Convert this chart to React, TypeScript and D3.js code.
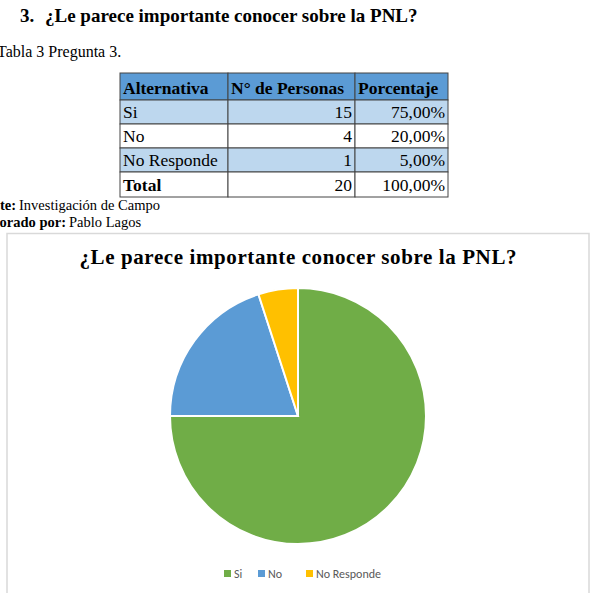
import React from "react";
import * as d3 from "d3";

const categories = ["Si", "No", "No Responde"];
const counts = [15, 4, 1];
const percentLabels = ["75,00%", "20,00%", "5,00%"];
const totalLabel = "Total";
const totalCount = "20";
const totalPercent = "100,00%";
const headers = ["Alternativa", "N° de Personas", "Porcentaje"];
const colors = ["#70AD47", "#5B9BD5", "#FFC000"];

const serif = "'Liberation Serif', 'Times New Roman', serif";
const sans = "Carlito, 'Open Sans', 'Liberation Sans', sans-serif";

export default function App() {
  const W = 595, H = 593;
  const colX = [120, 228, 355, 448];
  const rowY = [73, 100, 124, 148, 172, 197];
  const rowFill = ["#5B9BD5", "#BDD7EE", "#FFFFFF", "#BDD7EE", "#FFFFFF"];

  const pie = d3.pie<number>().sort(null).value((d) => d);
  const arcs = pie(counts);
  const cx = 298, cy = 416, r = 128;
  const arc = d3.arc<d3.PieArcDatum<number>>().innerRadius(0).outerRadius(r);

  const rows = [
    { cells: headers, bold: true },
    ...categories.map((c, i) => ({ cells: [c, String(counts[i]), percentLabels[i]], bold: false })),
    { cells: [totalLabel, totalCount, totalPercent], bold: false, firstBold: true },
  ];

  const legendX = [224, 258, 306];

  return (
    <svg width={W} height={H} style={{ position: "absolute", left: 0, top: 0, display: "block" }}>
      <rect x={0} y={0} width={W} height={H} fill="#fff" />
      <text x={20} y={22} fontFamily={serif} fontWeight="bold" fontSize={19}>3.</text>
      <text x={45} y={22} fontFamily={serif} fontWeight="bold" fontSize={19}>¿Le parece importante conocer sobre la PNL?</text>
      <text x={-3} y={57} fontFamily={serif} fontSize={16}>Tabla 3 Pregunta 3.</text>

      {rows.map((row, ri) => (
        <g key={ri}>
          {row.cells.map((cell, ci) => {
            const x0 = colX[ci], x1 = colX[ci + 1];
            const y0 = rowY[ri], y1 = rowY[ri + 1];
            const alignLeft = ri === 0 || ci === 0;
            const bold = row.bold || ((row as any).firstBold && ci === 0);
            return (
              <g key={ci}>
                <rect x={x0} y={y0} width={x1 - x0} height={y1 - y0} fill={rowFill[ri] || "#fff"} stroke="#444" strokeWidth={1} />
                <text
                  x={alignLeft ? x0 + 3 : x1 - 3}
                  y={y1 - 6}
                  textAnchor={alignLeft ? "start" : "end"}
                  fontFamily={serif}
                  fontSize={17.5}
                  fontWeight={bold ? "bold" : "normal"}
                  fill="#000"
                >
                  {cell}
                </text>
              </g>
            );
          })}
        </g>
      ))}

      <text x={16} y={210} textAnchor="end" fontFamily={serif} fontSize={14.5} fontWeight="bold">Fuente:</text>
      <text x={19} y={210} fontFamily={serif} fontSize={14.5}>Investigación de Campo</text>
      <text x={66} y={227} textAnchor="end" fontFamily={serif} fontSize={14.5} fontWeight="bold">Elaborado por:</text>
      <text x={69} y={227} fontFamily={serif} fontSize={14.5}>Pablo Lagos</text>

      <rect x={7} y={233.5} width={582} height={370} fill="#fff" stroke="#D9D9D9" strokeWidth={1.5} />
      <text x={298} y={264} textAnchor="middle" fontFamily={serif} fontWeight="bold" fontSize={21} textLength={437} lengthAdjust="spacing">¿Le parece importante conocer sobre la PNL?</text>

      <g transform={`translate(${cx},${cy})`}>
        {arcs.map((a, i) => (
          <path key={i} d={arc(a) || ""} fill={colors[i]} stroke="#fff" strokeWidth={2} />
        ))}
      </g>

      {categories.map((c, i) => (
        <g key={c}>
          <rect x={legendX[i]} y={570} width={7} height={7} fill={colors[i]} />
          <text x={legendX[i] + 10} y={578} fontFamily={sans} fontSize={12} fill="#595959">{c}</text>
        </g>
      ))}
    </svg>
  );
}
